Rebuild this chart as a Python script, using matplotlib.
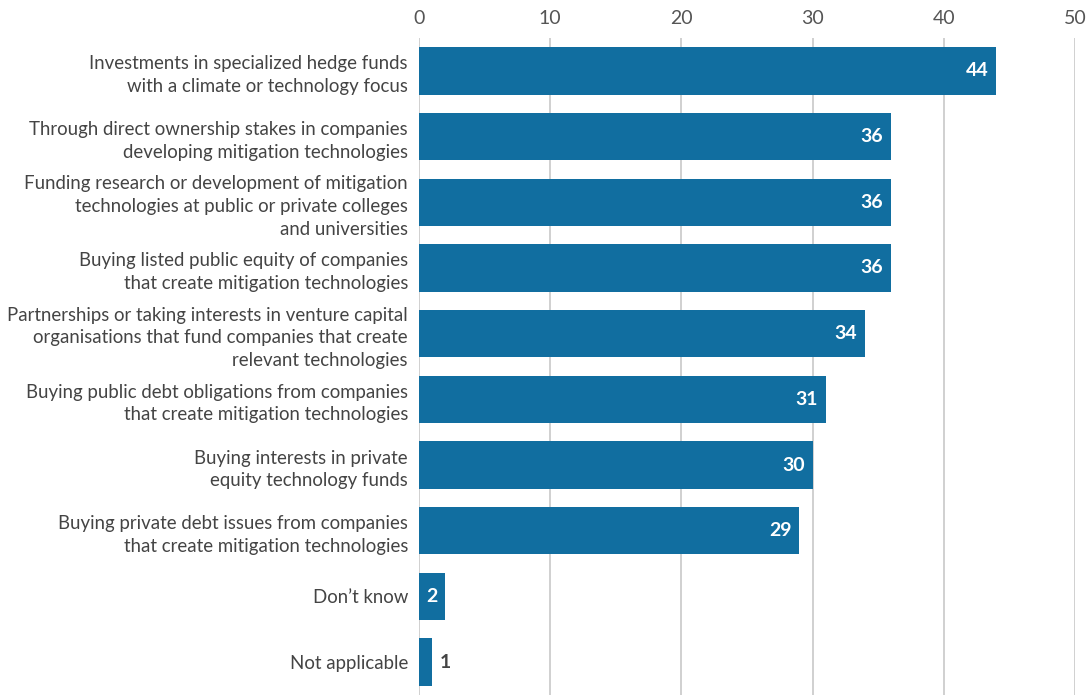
import matplotlib.pyplot as plt
import matplotlib as mpl

mpl.rcParams.update({
    "font.family": ["Lato", "DejaVu Sans"],
    "font.size": 13,
})

# Survey responses (% of respondents)
categories = [
    "Investments in specialized hedge funds\nwith a climate or technology focus",
    "Through direct ownership stakes in companies\ndeveloping mitigation technologies",
    "Funding research or development of mitigation\ntechnologies at public or private colleges\nand universities",
    "Buying listed public equity of companies\nthat create mitigation technologies",
    "Partnerships or taking interests in venture capital\norganisations that fund companies that create\nrelevant technologies",
    "Buying public debt obligations from companies\nthat create mitigation technologies",
    "Buying interests in private\nequity technology funds",
    "Buying private debt issues from companies\nthat create mitigation technologies",
    "Don\u2019t know",
    "Not applicable",
]
values = [44, 36, 36, 36, 34, 31, 30, 29, 2, 1]
ticks = [0, 10, 20, 30, 40, 50]

BAR = "#116ea0"
TEXT = "#444444"

fig = plt.figure(figsize=(10.86, 6.95), dpi=100)
ax = fig.add_axes([419 / 1086, 0, (1075 - 419) / 1086, (695 - 38) / 695])

y = list(range(len(values)))
ax.barh(y, values, height=0.72, color=BAR, zorder=2)

# value labels: white inside the bar, dark just outside for the tiny one
for yi, v in zip(y, values):
    if v >= 2:
        ax.text(v - 0.6, yi, str(v), ha="right", va="center",
                color="white", fontweight="bold", fontsize=14, zorder=3)
    else:
        ax.text(v + 0.6, yi, str(v), ha="left", va="center",
                color=TEXT, fontweight="bold", fontsize=14, zorder=3)

ax.set_xlim(0, 50)
ax.set_ylim(len(values) - 0.5, -0.5)
ax.set_xticks(ticks)
ax.xaxis.tick_top()
ax.tick_params(axis="x", length=0, pad=8, labelsize=14, labelcolor="#555555")
ax.set_yticks(y)
ax.set_yticklabels(categories, linespacing=1.4)
ax.tick_params(axis="y", length=0, pad=8, labelsize=13.4, labelcolor=TEXT)
ax.grid(axis="x", color="#c8c8c8", lw=1.2, zorder=0)
for s in ax.spines.values():
    s.set_visible(False)

fig.savefig("out.png", dpi=100)
